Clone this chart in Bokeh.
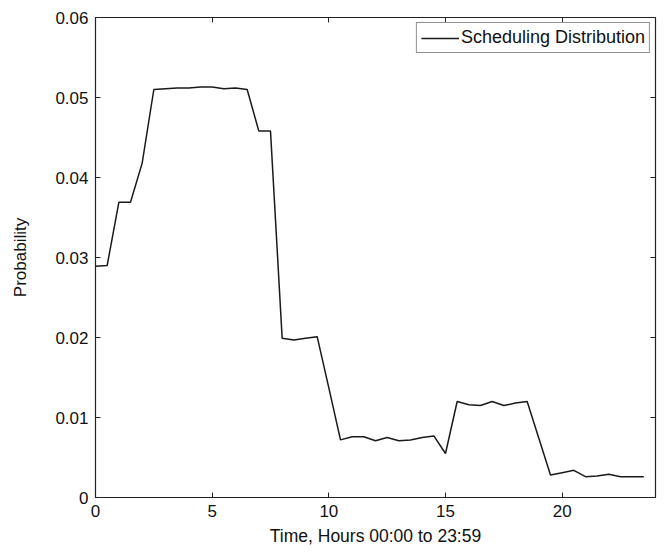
from bokeh.plotting import figure
from bokeh.models import LinearAxis, Range1d, FixedTicker, Legend, LegendItem
from bokeh.embed import file_html
from bokeh.resources import INLINE

hours = [0.0, 0.5, 1.0, 1.5, 2.0, 2.5, 3.0, 3.5, 4.0, 4.5, 5.0, 5.5,
         6.0, 6.5, 7.0, 7.5, 8.0, 8.5, 9.0, 9.5, 10.0, 10.5, 11.0, 11.5,
         12.0, 12.5, 13.0, 13.5, 14.0, 14.5, 15.0, 15.5, 16.0, 16.5, 17.0, 17.5,
         18.0, 18.5, 19.0, 19.5, 20.0, 20.5, 21.0, 21.5, 22.0, 22.5, 23.0, 23.5]
probability = [0.0289, 0.0290, 0.0369, 0.0369, 0.0418, 0.0510, 0.0511, 0.0512, 0.0512, 0.0513, 0.0513, 0.0511,
               0.0512, 0.0510, 0.0458, 0.0458, 0.0199, 0.0197, 0.0199, 0.0201, 0.0137, 0.0072, 0.0076, 0.0076,
               0.0071, 0.0075, 0.0071, 0.0072, 0.0075, 0.0077, 0.0055, 0.0120, 0.0116, 0.0115, 0.0120, 0.0115,
               0.0118, 0.0120, 0.0074, 0.0028, 0.0031, 0.0034, 0.0026, 0.0027, 0.0029, 0.0026, 0.0026, 0.0026]
x_ticks = [0, 5, 10, 15, 20]
y_ticks = [0, 0.01, 0.02, 0.03, 0.04, 0.05, 0.06]
series_name = "Scheduling Distribution"

FONT = "Liberation Sans"

p = figure(width=664, height=552, output_backend="svg", toolbar_location=None,
           x_range=Range1d(0, 24), y_range=Range1d(0, 0.06),
           min_border_left=95, min_border_right=9, min_border_top=17, min_border_bottom=55)
p.background_fill_color = "white"
p.border_fill_color = "white"
p.outline_line_color = "#222222"
p.outline_line_width = 1.2
p.xgrid.visible = False
p.ygrid.visible = False

line = p.line(hours, probability, line_color="#1a1a1a", line_width=1.5)

def style_axis(ax, ticks, show_labels):
    ax.ticker = FixedTicker(ticks=ticks)
    ax.major_tick_in = 5
    ax.major_tick_out = 0
    ax.minor_tick_line_color = None
    ax.axis_line_color = "#222222"
    ax.major_tick_line_color = "#222222"
    ax.major_label_text_font = FONT
    ax.major_label_text_font_size = "17px"
    ax.major_label_text_color = "#111111"
    ax.axis_label_text_font = FONT
    ax.axis_label_text_font_size = "17px"
    ax.axis_label_text_font_style = "normal"
    ax.axis_label_text_color = "#111111"
    if not show_labels:
        ax.major_label_overrides = {t: "" for t in ticks}
        ax.major_label_text_font_size = "1px"
        ax.major_label_standoff = 0

style_axis(p.xaxis[0], x_ticks, True)
style_axis(p.yaxis[0], y_ticks, True)
p.xaxis[0].axis_label = "Time, Hours 00:00 to 23:59"
p.yaxis[0].axis_label = "Probability"
p.xaxis[0].axis_label_text_font_size = "17.5px"
p.xaxis[0].major_label_standoff = 7
p.yaxis[0].major_label_standoff = 7
p.xaxis[0].axis_label_standoff = 6
p.yaxis[0].axis_label_standoff = 22
p.yaxis[0].formatter.use_scientific = False

top_axis = LinearAxis()
right_axis = LinearAxis()
style_axis(top_axis, x_ticks, False)
style_axis(right_axis, y_ticks, False)
p.add_layout(top_axis, "above")
p.add_layout(right_axis, "right")

legend = Legend(items=[LegendItem(label=series_name, renderers=[line])],
                location="top_right")
legend.label_text_font = FONT
legend.label_text_font_size = "18px"
legend.label_text_color = "#111111"
legend.border_line_color = "#222222"
legend.border_line_width = 1
legend.background_fill_alpha = 1
legend.glyph_width = 38
legend.glyph_height = 20
legend.label_height = 20
legend.label_standoff = 2
legend.padding = 4
legend.margin = 5
legend.spacing = 0
p.add_layout(legend)

open("out.html", "w").write(file_html(p, INLINE))
